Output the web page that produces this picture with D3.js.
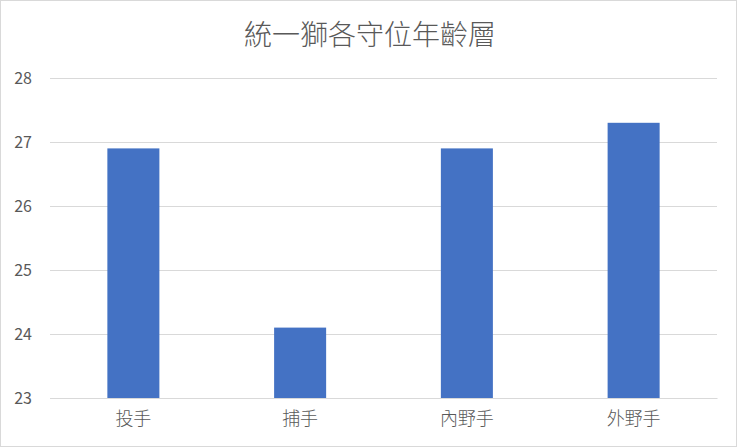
<!DOCTYPE html>
<html><head><meta charset="utf-8">
<script src="https://cdn.jsdelivr.net/npm/d3@7/dist/d3.min.js"></script>
<style>
html,body{margin:0;padding:0;background:#fff;}
svg{display:block;}
</style></head>
<body>
<svg id="chart" width="740" height="448"></svg>
<script>
const title = "統一獅各守位年齡層";
const categories = ["投手", "捕手", "內野手", "外野手"];
const values = [26.9, 24.1, 26.9, 27.3];
const yTicks = [23, 24, 25, 26, 27, 28];

const svg = d3.select("#chart");
const W = 740, H = 448;
const margin = {left: 50, right: 23, top: 78, bottom: 50};

svg.append("rect").attr("x", 0.5).attr("y", 0.5).attr("width", 736).attr("height", 446)
  .attr("fill", "#fff").attr("stroke", "#d9d9d9").attr("stroke-width", 1);

const x = d3.scaleBand().domain(categories).range([50, 717]).paddingInner(0.688).paddingOuter(0.344);
const y = d3.scaleLinear().domain([23, 28]).range([398, 78]);

const font = "'Noto Sans CJK TC','Noto Sans',sans-serif";

// gridlines
const yAxis = d3.axisLeft(y).tickValues(yTicks).tickSize(-(717 - 50)).tickPadding(18).tickFormat(d3.format("d"));
const gy = svg.append("g").attr("transform", "translate(50,0)").call(yAxis);
gy.select(".domain").remove();
gy.selectAll(".tick line").attr("stroke", "#d9d9d9").attr("stroke-width", 1);
gy.selectAll(".tick text").attr("fill", "#595959").attr("font-size", 16).attr("font-family", font);

// bars
svg.append("g").selectAll("rect").data(values).join("rect")
  .attr("x", (d, i) => x(categories[i]))
  .attr("y", d => y(d))
  .attr("width", x.bandwidth())
  .attr("height", d => y(23) - y(d))
  .attr("fill", "#4472c4");

// x axis
const xAxis = d3.axisBottom(x).tickSize(0).tickPadding(14);
const gx = svg.append("g").attr("transform", "translate(0,398)").call(xAxis);
gx.select(".domain").attr("stroke", "#d9d9d9");
gx.selectAll(".tick text").attr("fill", "#595959").attr("font-size", 18).attr("font-family", font).attr("font-weight", 300);

// title
svg.append("text").attr("x", 370).attr("y", 45).attr("text-anchor", "middle")
  .attr("font-family", font).attr("font-size", 28).attr("font-weight", 300)
  .attr("fill", "#595959").text(title);
</script>
</body></html>
